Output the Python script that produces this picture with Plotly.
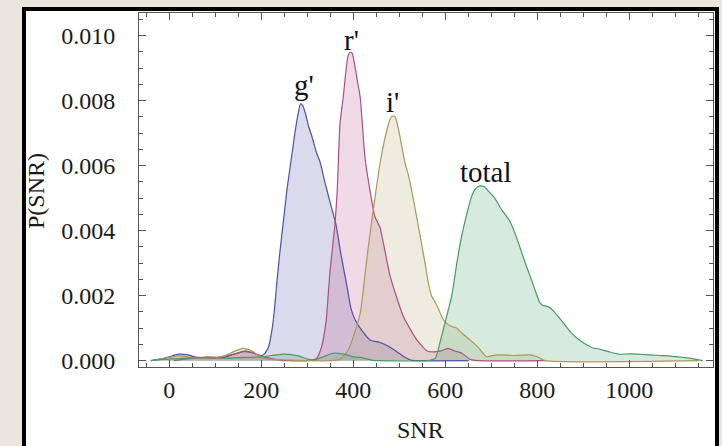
import plotly.graph_objects as go

# ---- data ----
g_x = [-40, -20, 0, 20, 40, 60, 80, 100, 120, 140, 160, 180, 193, 205, 215, 222, 228, 233, 240, 248,
       256, 266, 274, 280, 285, 290, 296, 303, 310, 320, 328, 338, 349, 362, 374, 386, 395, 404, 420,
       436, 458, 475, 494, 510, 525, 540, 650]
g_y = [0, 0.00005, 0.00012, 0.0002, 0.00018, 0.0001, 0.0001, 0.0001, 0.0001, 0.0002, 0.00028, 0.00025,
       0.00017, 0.00018, 0.0004, 0.00085, 0.0015, 0.0023, 0.0033, 0.0043,
       0.0053, 0.0063, 0.0071, 0.0076, 0.0079, 0.00785, 0.0076, 0.0072, 0.0069, 0.0064, 0.0061, 0.0055,
       0.0049, 0.0042, 0.0032, 0.0023, 0.0016, 0.00125, 0.0009,
       0.00064, 0.00056, 0.00045, 0.00028, 0.00012, 0.00002, 0, 0]

r_x = [10, 40, 60, 100, 140, 165, 190, 210, 240, 260, 300, 320, 331, 341, 349, 360, 365, 371, 378,
       383, 388, 393, 398, 403, 409, 415, 425, 436, 447, 458, 480, 509, 538, 560, 574, 590, 606, 620,
       636, 654, 670, 820]
r_y = [0, 0.00006, 0.0001, 0.00008, 0.0002, 0.0003, 0.0002, 0.0001, 0.00002, 0, 0, 0.00007, 0.00043,
       0.00125, 0.0027, 0.0042, 0.00525, 0.0073, 0.0081,
       0.0088, 0.00935, 0.0095, 0.00945, 0.0091, 0.0086, 0.0081, 0.0063, 0.00525, 0.00443, 0.0041, 0.0026,
       0.00135, 0.00064, 0.0003, 0.00027, 0.0003, 0.00038, 0.0003,
       0.00023, 0.00004, 0, 0]

i_x = [-40, -20, 0, 20, 40, 60, 80, 100, 120, 140, 160, 180, 200, 220, 260, 300, 350, 371, 389, 400,
       415, 429, 440, 455, 465, 473, 479, 485, 491, 497, 504, 512, 520, 530, 538, 547, 556, 563, 570,
       578, 585, 594, 603, 614, 625, 640, 654, 672, 690, 700, 716, 750, 785, 800, 817, 1150]
i_y = [0, 0.00005, 0.0001, 0.00015, 0.00012, 0.00008, 0.00012, 0.0001, 0.00015, 0.00028, 0.00038,
       0.0003, 0.0001, 0.00004, 0.00002, 0, 0, 0.00004, 0.00033, 0.00074,
       0.00146, 0.0031, 0.0043, 0.0058, 0.0066, 0.0071, 0.0074, 0.00753, 0.0075, 0.0072, 0.0067, 0.0061,
       0.0057, 0.0050, 0.0044, 0.0037, 0.0030, 0.0024, 0.0020,
       0.0018, 0.0016, 0.0013, 0.00115, 0.00105, 0.0010, 0.0008, 0.00064, 0.0004, 0.00012, 0.00015,
       0.00018, 0.00016, 0.00018, 0.00012, 0, 0]

t_x = [-40, -20, 0, 40, 80, 120, 160, 200, 248, 280, 300, 317, 335, 356, 380, 400, 415, 440, 460,
       560, 578, 588, 599, 614, 625, 635, 643, 650, 657, 666, 675, 685, 695, 705, 712, 720, 730, 740,
       752, 762, 774, 787, 797, 805, 812, 820, 828, 837, 846, 860, 875, 890, 908, 920, 937, 955, 977,
       1000, 1020, 1040, 1064, 1085, 1107, 1130, 1154, 1160]
t_y = [0, 0.00003, 0.00005, 0.00008, 0.0001, 0.00008, 0.0001, 0.00012, 0.0002, 0.00015, 0.00005,
       0.00003, 0.00012, 0.00023, 0.0002, 0.00012, 0.0001, 0.00002, 0,
       0, 0.00007, 0.00054, 0.00115, 0.0020, 0.0030, 0.0038, 0.0043, 0.0047, 0.00505, 0.0053, 0.00538,
       0.00535, 0.0052, 0.00505, 0.0049, 0.0047, 0.0045, 0.0043,
       0.0039, 0.0035, 0.0030, 0.0025, 0.0021, 0.0018, 0.0017, 0.00168, 0.00163, 0.0015, 0.00135,
       0.0011, 0.00084, 0.00065, 0.00048, 0.0004, 0.00035, 0.00028, 0.0002,
       0.00021, 0.0002, 0.00018, 0.00016, 0.00015, 0.00012, 0.00008, 0.00002, 0]

series_names = ["g'", "r'", "i'", "total"]
label_x = [293, 396, 485, 688]
label_y = [0.00848, 0.00987, 0.00796, 0.0058]

line_colors = ["rgb(80,80,165)", "rgb(170,80,130)", "rgb(170,152,85)", "rgb(70,155,100)"]
fill_colors = ["rgba(72,72,160,0.2)", "rgba(178,70,130,0.2)", "rgba(170,160,100,0.2)",
               "rgba(70,160,100,0.22)"]

xs = [g_x, r_x, i_x, t_x]
ys = [g_y, r_y, i_y, t_y]

fig = go.Figure()
# fills first
for x, y, fc in zip(xs, ys, fill_colors):
    fig.add_trace(go.Scatter(x=x, y=y, mode="lines", fill="tozeroy", fillcolor=fc,
                             line=dict(width=0, shape="spline", smoothing=0.5),
                             hoverinfo="skip", showlegend=False))
# lines on top
for x, y, lc, n in zip(xs, ys, line_colors, series_names):
    fig.add_trace(go.Scatter(x=x, y=y, mode="lines", name=n,
                             line=dict(color=lc, width=1.2, shape="spline", smoothing=0.5),
                             showlegend=False))

serif = "Liberation Serif, Times New Roman, serif"
for n, lx, ly in zip(series_names, label_x, label_y):
    fig.add_annotation(x=lx, y=ly, text=n, showarrow=False, xanchor="center", yanchor="middle",
                       font=dict(family=serif, size=29, color="#111"))

# axis titles as annotations
L, R, T, B = 139, 9, 13, 79
W, H = 722, 446
pw, ph = W - L - R, H - T - B
def px2paper(xp, yp):
    return (xp - L) / pw, (H - B - yp) / ph

ax, ay = px2paper(420, 430)
fig.add_annotation(x=ax, y=ay, xref="paper", yref="paper", text="SNR", showarrow=False,
                   xanchor="center", yanchor="middle", font=dict(family=serif, size=24, color="#1a1a1a"))
ax, ay = px2paper(36, 191)
fig.add_annotation(x=ax, y=ay, xref="paper", yref="paper", text="P(SNR)", showarrow=False,
                   textangle=-90, xanchor="center", yanchor="middle",
                   font=dict(family=serif, size=24, color="#1a1a1a"))

# white card with black border
x0, y1 = px2paper(24, 9)
x1, y0 = px2paper(717, 470)
fig.add_shape(type="rect", xref="paper", yref="paper", x0=x0, x1=x1, y0=y0, y1=y1,
              fillcolor="white", line=dict(color="black", width=4), layer="below")

axis_common = dict(showgrid=False, zeroline=False, showline=True, linecolor="#555", linewidth=1,
                   mirror="allticks", ticks="inside", ticklen=7, tickwidth=1, tickcolor="#555",
                   tickfont=dict(family=serif, size=24, color="#1a1a1a"))
fig.update_xaxes(range=[-66, 1182], tickvals=[0, 200, 400, 600, 800, 1000], ticklabelstandoff=1,
                 minor=dict(dtick=50, tick0=0, ticks="inside", ticklen=4, tickcolor="#555"),
                 **axis_common)
fig.update_yaxes(range=[-0.000194, 0.0107], tickvals=[0, 0.002, 0.004, 0.006, 0.008, 0.010],
                 tickformat=".3f", ticklabelstandoff=18,
                 minor=dict(dtick=0.0005, tick0=0, ticks="inside", ticklen=4, tickcolor="#555"),
                 **axis_common)

fig.update_layout(width=W, height=H, margin=dict(l=L, r=R, t=T, b=B, pad=0),
                  paper_bgcolor="#EAE6DD", plot_bgcolor="rgba(0,0,0,0)", showlegend=False)

fig.write_html("out.html")
